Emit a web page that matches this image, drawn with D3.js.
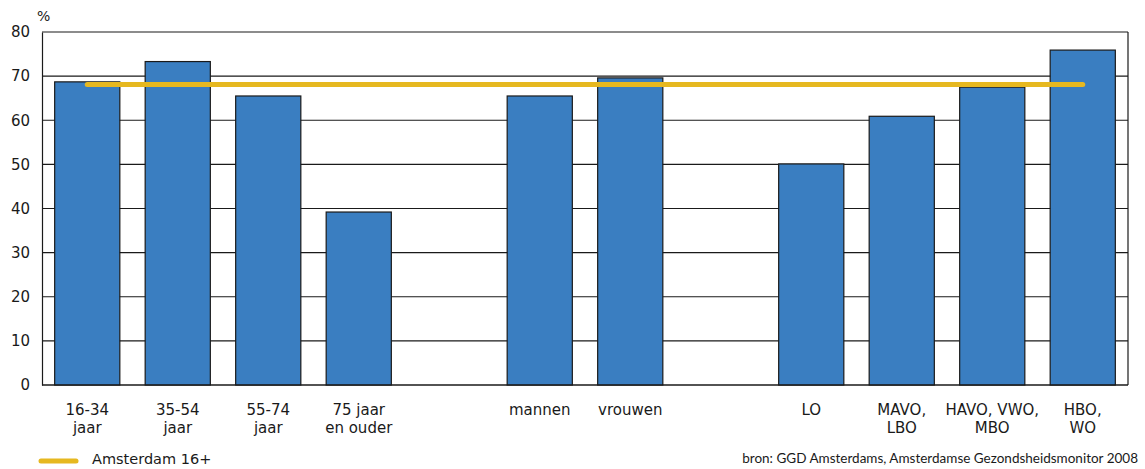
<!DOCTYPE html>
<html><head><meta charset="utf-8">
<script src="https://cdn.jsdelivr.net/npm/d3@7"></script>
<style>body{margin:0;background:#fff}svg{display:block}text{font-family:"DejaVu Sans",sans-serif;fill:#1a1a1a}</style>
</head><body>
<svg id="c" width="1145" height="469"></svg>
<script>
const slots = ["16-34 jaar","35-54 jaar","55-74 jaar","75 jaar en ouder","gap1","mannen","vrouwen","gap2","LO","MAVO, LBO","HAVO, VWO, MBO","HBO, WO"];
const categories = ["16-34 jaar","35-54 jaar","55-74 jaar","75 jaar en ouder","mannen","vrouwen","LO","MAVO, LBO","HAVO, VWO, MBO","HBO, WO"];
const values = [68.7,73.3,65.5,39.2,65.5,69.6,50.1,60.9,67.5,75.9];
const labelLines = [["16-34","jaar"],["35-54","jaar"],["55-74","jaar"],["75 jaar","en ouder"],["mannen"],["vrouwen"],["LO"],["MAVO,","LBO"],["HAVO, VWO,","MBO"],["HBO,","WO"]];
const amsterdam = 68.1;
const yTicks = [0,10,20,30,40,50,60,70,80];

const svg = d3.select("#c");
const L=42,R=1128,T=32,B=385;
const x = d3.scaleBand().domain(slots).range([L,R]).paddingInner(0.28).paddingOuter(0.14);
const y = d3.scaleLinear().domain([0,80]).range([B,T]);

svg.append("g").selectAll("line").data(yTicks).join("line")
  .attr("x1",L).attr("x2",R).attr("y1",d=>y(d)).attr("y2",d=>y(d))
  .attr("stroke","#1a1a1a").attr("stroke-width",1.2);
svg.append("line").attr("x1",R).attr("x2",R).attr("y1",T).attr("y2",B).attr("stroke","#1a1a1a").attr("stroke-width",1.2);

svg.append("g").selectAll("rect").data(categories).join("rect")
  .attr("x",d=>x(d)).attr("width",x.bandwidth())
  .attr("y",(d,i)=>y(values[i])).attr("height",(d,i)=>y(0)-y(values[i]))
  .attr("fill","#3a7ec1").attr("stroke","#1a1a1a").attr("stroke-width",1.2);

const yAxis = d3.axisLeft(y).tickValues(yTicks).tickSize(0).tickPadding(12);
const ga = svg.append("g").attr("transform",`translate(${L},0)`).call(yAxis);
ga.select(".domain").attr("stroke","#1a1a1a").attr("stroke-width",1.2);
ga.selectAll("text").style("font-size","15px").style("font-family","'DejaVu Sans', sans-serif").attr("fill","#1a1a1a");
svg.append("line").attr("x1",L).attr("x2",R).attr("y1",B).attr("y2",B).attr("stroke","#1a1a1a").attr("stroke-width",1.2);

svg.append("text").attr("x",37).attr("y",21).style("font-size","14px").text("%");

const first = categories[0], last = categories[categories.length-1];
svg.append("line").attr("x1",x(first)+x.bandwidth()/2).attr("x2",x(last)+x.bandwidth()/2)
  .attr("y1",y(amsterdam)).attr("y2",y(amsterdam))
  .attr("stroke","#e6b820").attr("stroke-width",5).attr("stroke-linecap","round");

const xl = svg.append("g");
categories.forEach((c,i)=>{
  const t = xl.append("text").attr("x",x(c)+x.bandwidth()/2).attr("y",415)
    .attr("text-anchor","middle").style("font-size","15px");
  labelLines[i].forEach((ln,j)=>{
    t.append("tspan").attr("x",x(c)+x.bandwidth()/2).attr("dy",j===0?0:18).text(ln);
  });
});

svg.append("line").attr("x1",41).attr("x2",76).attr("y1",461).attr("y2",461)
  .attr("stroke","#e6b820").attr("stroke-width",5).attr("stroke-linecap","round");
svg.append("text").attr("x",92).attr("y",464).style("font-size","14.5px").text("Amsterdam 16+");
svg.append("text").attr("x",1138).attr("y",463).attr("text-anchor","end")
  .style("font-size","13.5px").style("font-family","Lato, sans-serif")
  .text("bron: GGD Amsterdams, Amsterdamse Gezondsheidsmonitor 2008");
</script>
</body></html>
